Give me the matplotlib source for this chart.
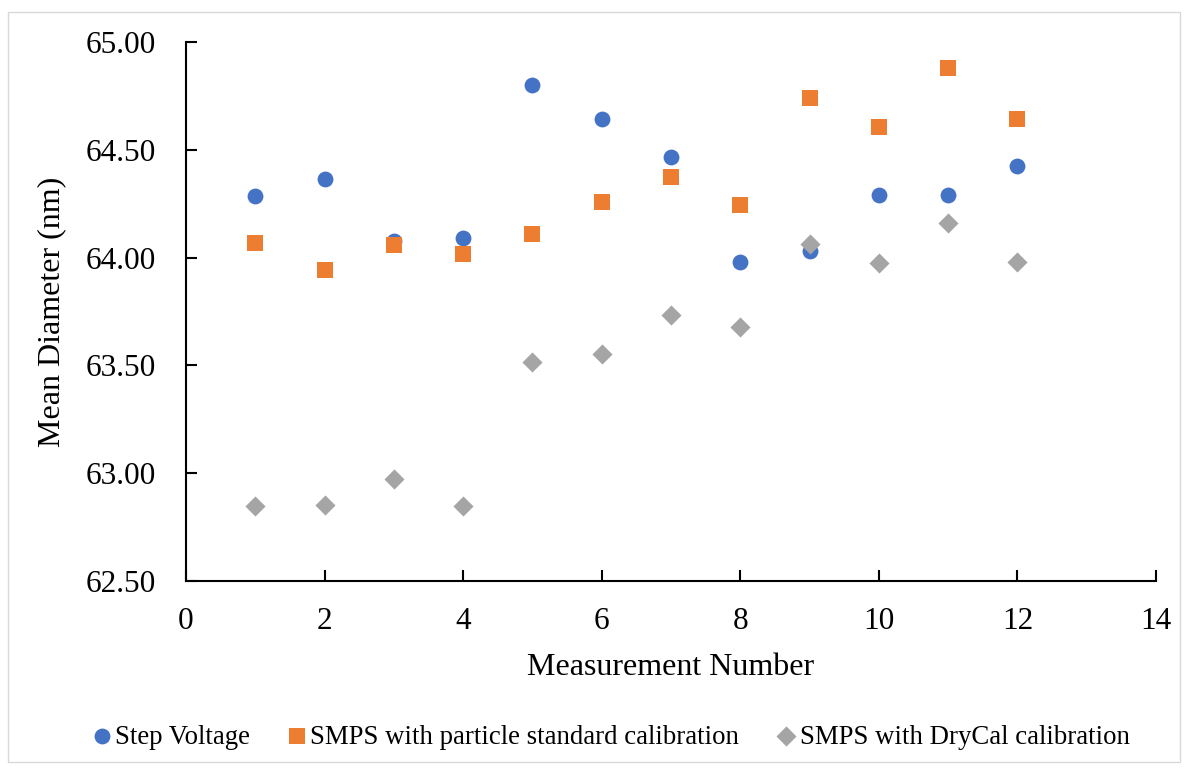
import matplotlib
matplotlib.use("Agg")
import matplotlib.pyplot as plt
from matplotlib.patches import Rectangle

plt.rcParams['font.family'] = ['Liberation Serif', 'DejaVu Serif']

measurement = [1, 2, 3, 4, 5, 6, 7, 8, 9, 10, 11, 12]
step_voltage = [64.286, 64.365, 64.077, 64.091, 64.800, 64.643,
                64.468, 63.981, 64.032, 64.289, 64.290, 64.425]
smps_particle_std = [64.068, 63.942, 64.058, 64.017, 64.109, 64.258,
                     64.375, 64.244, 64.742, 64.606, 64.879, 64.643]
smps_drycal = [62.848, 62.853, 62.973, 62.848, 63.516, 63.553,
               63.734, 63.678, 64.063, 63.973, 64.162, 63.980]

series_names = ["Step Voltage",
                "SMPS with particle standard calibration",
                "SMPS with DryCal calibration"]

W, H = 1188, 770
fig = plt.figure(figsize=(W / 100, H / 100), dpi=100)

# light outer frame
fig.patches.append(Rectangle((8 / W, 8 / H), 1172 / W, 750 / H,
                             transform=fig.transFigure, fill=False,
                             edgecolor='#d9d9d9', linewidth=1.0))

ax = fig.add_axes([186 / W, 1 - 581 / H, 970 / W, 539 / H])

ax.scatter(measurement, step_voltage, marker='o', s=130, color='#4472C4',
           linewidths=0, label=series_names[0], zorder=3)
ax.scatter(measurement, smps_particle_std, marker='s', s=130, color='#ED7D31',
           linewidths=0, label=series_names[1], zorder=3)
ax.scatter(measurement, smps_drycal, marker='D', s=105, color='#A5A5A5',
           linewidths=0, label=series_names[2], zorder=3)

ax.set_xlim(0, 14)
ax.set_ylim(62.5, 65.0)
ax.set_xticks(range(0, 15, 2))
ax.set_yticks([62.5, 63.0, 63.5, 64.0, 64.5, 65.0])
ax.set_yticklabels([f"{v:.2f}" for v in ax.get_yticks()])

for side in ('top', 'right'):
    ax.spines[side].set_visible(False)
for side in ('left', 'bottom'):
    ax.spines[side].set_linewidth(1.5)
    ax.spines[side].set_color('black')

ax.tick_params(axis='both', direction='in', length=8, width=1.5,
               labelsize=22.5, colors='black')
ax.tick_params(axis='y', pad=22)
ax.tick_params(axis='x', pad=19)

ax.set_xlabel("Measurement Number", fontsize=23, labelpad=12)
ax.set_ylabel("Mean Diameter (nm)", fontsize=23, labelpad=14)

leg = fig.legend(loc='center', bbox_to_anchor=(0.5126, 1 - 737 / H), ncol=3,
                 frameon=False, fontsize=19.3, handletextpad=0.0,
                 columnspacing=1.25, handlelength=1.0, markerscale=1.0)

fig.savefig("out.png", dpi=100)
